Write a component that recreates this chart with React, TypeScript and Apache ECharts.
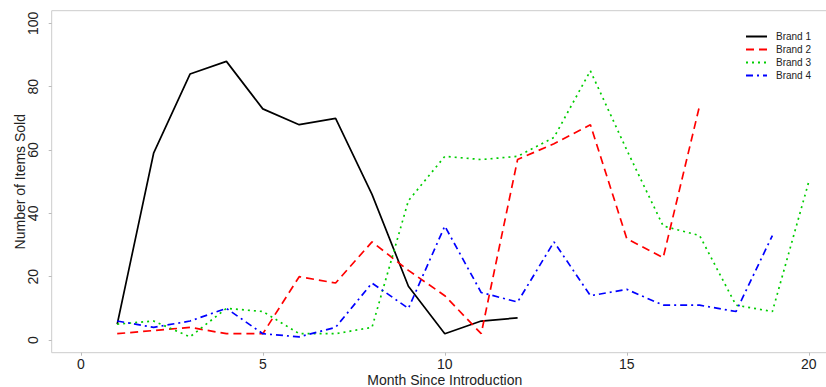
import React, { useEffect, useRef } from "react";
import * as echarts from "echarts";

const months = [1, 2, 3, 4, 5, 6, 7, 8, 9, 10, 11, 12, 13, 14, 15, 16, 17, 18, 19, 20];
const brand1 = [5, 59, 84, 88, 73, 68, 70, 46, 17, 2, 6, 7];
const brand2 = [2, 3, 4, 2, 2, 20, 18, 31, 22, 14, 2, 57, 62, 68, 32, 26, 74];
const brand3 = [5, 6, 1, 10, 9, 2, 2, 4, 44, 58, 57, 58, 64, 85, 60, 36, 33, 11, 9, 50];
const brand4 = [6, 4, 6, 10, 2, 1, 4, 18, 10, 36, 15, 12, 31, 14, 16, 11, 11, 9, 33];
const xTicks = [0, 5, 10, 15, 20];
const yTicks = [0, 20, 40, 60, 80, 100];
const seriesNames = ["Brand 1", "Brand 2", "Brand 3", "Brand 4"];

const FONT = "'Liberation Sans', Arial, Helvetica, sans-serif";

export default function App() {
  const ref = useRef<HTMLDivElement>(null);
  useEffect(() => {
    if (!ref.current) return;
    const chart = echarts.init(ref.current, null, { renderer: "svg" });
    const toPairs = (vals: number[]) => vals.map((v, i) => [months[i], v]);
    const styles = [
      { color: "#000000", type: "solid" as any },
      { color: "#FF0000", type: [8, 5] },
      { color: "#00CD00", type: [2, 4] },
      { color: "#0000FF", type: [7, 4, 2, 4] },
    ];
    const data = [brand1, brand2, brand3, brand4];
    chart.setOption({
      animation: false,
      textStyle: { fontFamily: FONT },
      grid: {
        show: true,
        left: 51.7,
        top: 10.7,
        width: 786.2,
        height: 342,
        borderColor: "#cccccc",
        borderWidth: 1,
        containLabel: false,
        outerBoundsMode: "none",
      },
      legend: {
        orient: "vertical",
        left: 740,
        top: 25,
        itemWidth: 21,
        itemHeight: 13.3,
        itemGap: 0,
        data: seriesNames,
        itemStyle: { opacity: 0 },
        textStyle: {
          fontSize: 10,
          color: "#222",
          fontFamily: FONT,
          lineHeight: 13,
          padding: [0, 0, 0, 4],
        },
      },
      xAxis: {
        type: "value",
        min: -0.8,
        max: 20.8,
        name: "Month Since Introduction",
        nameLocation: "middle",
        nameGap: 20.5,
        nameMoveOverlap: false,
        nameTextStyle: { fontSize: 14, color: "#222", fontFamily: FONT },
        axisLine: { show: false, onZero: false },
        splitLine: { show: false },
        axisTick: {
          show: true,
          length: 3,
          customValues: xTicks,
          lineStyle: { color: "#bbbbbb" },
        },
        axisLabel: {
          customValues: xTicks,
          fontSize: 14,
          color: "#222",
          margin: 4,
          fontFamily: FONT,
        },
      },
      yAxis: {
        type: "value",
        min: -4,
        max: 104,
        name: "Number of Items Sold",
        nameLocation: "middle",
        nameRotate: 90,
        nameGap: 24.5,
        nameMoveOverlap: false,
        nameTextStyle: { fontSize: 14, color: "#222", fontFamily: FONT },
        axisLine: { show: false, onZero: false },
        splitLine: { show: false },
        axisTick: {
          show: true,
          length: 3,
          customValues: yTicks,
          lineStyle: { color: "#bbbbbb" },
        },
        axisLabel: {
          customValues: yTicks,
          rotate: 90,
          fontSize: 14,
          color: "#222",
          margin: 12,
          fontFamily: FONT,
        },
      },
      series: data.map((vals, i) => ({
        name: seriesNames[i],
        type: "line",
        data: toPairs(vals),
        showSymbol: false,
        symbol: "none",
        lineStyle: { color: styles[i].color, width: 1.7, type: styles[i].type },
        itemStyle: { color: styles[i].color },
      })),
    });
    return () => chart.dispose();
  }, []);
  return (
    <div
      ref={ref}
      style={{ position: "fixed", left: 0, top: 0, width: 826, height: 387, background: "#fff" }}
    />
  );
}
